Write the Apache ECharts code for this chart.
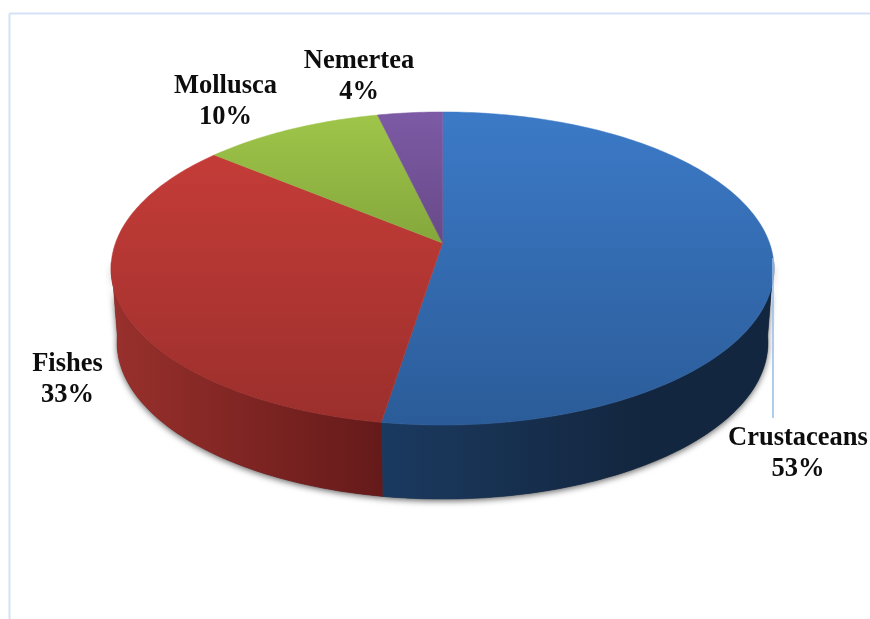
<!DOCTYPE html>
<html>
<head>
<meta charset="utf-8">
<style>html,body{margin:0;padding:0;background:#fff}#c{width:870px;height:619px}</style>
<script src="https://cdn.jsdelivr.net/npm/echarts@6/dist/echarts.min.js"></script>
</head>
<body>
<div id="c"></div>
<script>
// Data, clockwise from 12 o'clock
var categories = ['Crustaceans', 'Fishes', 'Mollusca', 'Nemertea'];
var shares = [52.51, 33.49, 10.3, 3.7];

// Styles
var topColors = [['#3c7ac7', '#2b5c99'], ['#cb3e3a', '#9b2f2c'], ['#9fc64a', '#5f7c28'], ['#7d5aa5', '#4a3360']];
var wallColors = [['#1b3a60', '#13263f'], ['#98302c', '#651a1a']];
var wallSpans = [[381, 640], [115, 381]];

// Layout: perspective disc
var disc = { cx: 442.5, cy: 243, a: 327, b: 152.4, k: 0.163, depth: 74, shrink: 0.982 };
var labelCentres = [[798, 453.5], [67.5, 380], [225.5, 101.5], [359, 76.5]];
var wallFrom = 97, wallTo = 263;

var total = shares.reduce(function (s, v) { return s + v; }, 0);
function sliceRange(i) {
  var before = 0;
  for (var j = 0; j < i; j++) before += shares[j];
  return [before / total * 360, (before + shares[i]) / total * 360];
}
function rim(deg, lower) {
  var t = deg * Math.PI / 180, u = Math.sin(t), v = Math.cos(t), w = 1 + disc.k * v;
  var dx = disc.a * u / w, dy = -disc.b * v / w;
  return lower
    ? [disc.cx + dx * disc.shrink, disc.cy + dy + disc.depth]
    : [disc.cx + dx, disc.cy + dy];
}
function arc(from, to, lower) {
  var pts = [], n = Math.max(2, Math.ceil(Math.abs(to - from)));
  for (var s = 0; s <= n; s++) pts.push(rim(from + (to - from) * s / n, lower));
  return pts;
}
function wallPoints(i) {
  var r = sliceRange(i), a = Math.max(r[0], wallFrom), b = Math.min(r[1], wallTo);
  if (a >= b) return null;
  return arc(a, b, false).concat(arc(b, a, true));
}
function grad(x, y, x2, y2, c) {
  return { type: 'linear', x: x, y: y, x2: x2, y2: y2, global: true,
    colorStops: [{ offset: 0, color: c[0] }, { offset: 1, color: c[1] }] };
}

var seriesData = categories.map(function (n, i) { return { name: n, value: shares[i] }; });
var base = { type: 'custom', coordinateSystem: 'none', data: seriesData, animation: false, silent: true };

var shadowSeries = Object.assign({}, base, { name: 'shadow', z: 1, renderItem: function (p) {
  var pts = wallPoints(p.dataIndex);
  if (!pts) return { type: 'group', children: [] };
  return { type: 'polygon', shape: { points: pts }, style: {
    fill: '#333', shadowColor: 'rgba(0,0,0,0.6)', shadowBlur: 6, shadowOffsetX: 0, shadowOffsetY: 2 } };
} });
var wallSeries = Object.assign({}, base, { name: 'sides', z: 2, renderItem: function (p) {
  var pts = wallPoints(p.dataIndex);
  if (!pts) return { type: 'group', children: [] };
  var sp = wallSpans[p.dataIndex];
  var g = grad(sp[0], 0, sp[1], 0, wallColors[p.dataIndex]);
  return { type: 'polygon', shape: { points: pts }, style: { fill: g, stroke: g, lineWidth: 0.5 } };
} });
var topSeries = Object.assign({}, base, { name: 'tops', z: 3, renderItem: function (p) {
  var r = sliceRange(p.dataIndex);
  var pts = [[disc.cx, disc.cy]].concat(arc(r[0], r[1], false));
  var g = grad(0, 112, 0, 425, topColors[p.dataIndex]);
  return { type: 'polygon', shape: { points: pts }, style: { fill: g, stroke: g, lineWidth: 0.5 } };
} });
var labelSeries = Object.assign({}, base, { name: 'labels', z: 5, renderItem: function (p, api) {
  var c = labelCentres[p.dataIndex];
  return { type: 'text', x: c[0], y: c[1], style: {
    text: categories[p.dataIndex] + '\n' + Math.round(api.value(0)) + '%',
    fill: '#0d0d0d', align: 'center', verticalAlign: 'middle',
    font: 'bold 26.5px "Liberation Serif"', lineHeight: 31 } };
} });

var chart = echarts.init(document.getElementById('c'), null, { renderer: 'canvas' });
chart.setOption({
  backgroundColor: '#ffffff',
  animation: false,
  graphic: [
    { type: 'line', z: 0, shape: { x1: 9.5, y1: 13.5, x2: 870, y2: 13.5 }, style: { stroke: '#d3e2f5', lineWidth: 2 } },
    { type: 'line', z: 0, shape: { x1: 9.5, y1: 13.5, x2: 9.5, y2: 619 }, style: { stroke: '#d3e2f5', lineWidth: 2 } },
    { type: 'line', z: 10, shape: { x1: 773, y1: 258, x2: 773, y2: 418 }, style: { stroke: '#9dbfe8', lineWidth: 1.6 } }
  ],
  series: [shadowSeries, wallSeries, topSeries, labelSeries]
});
</script>
</body>
</html>
